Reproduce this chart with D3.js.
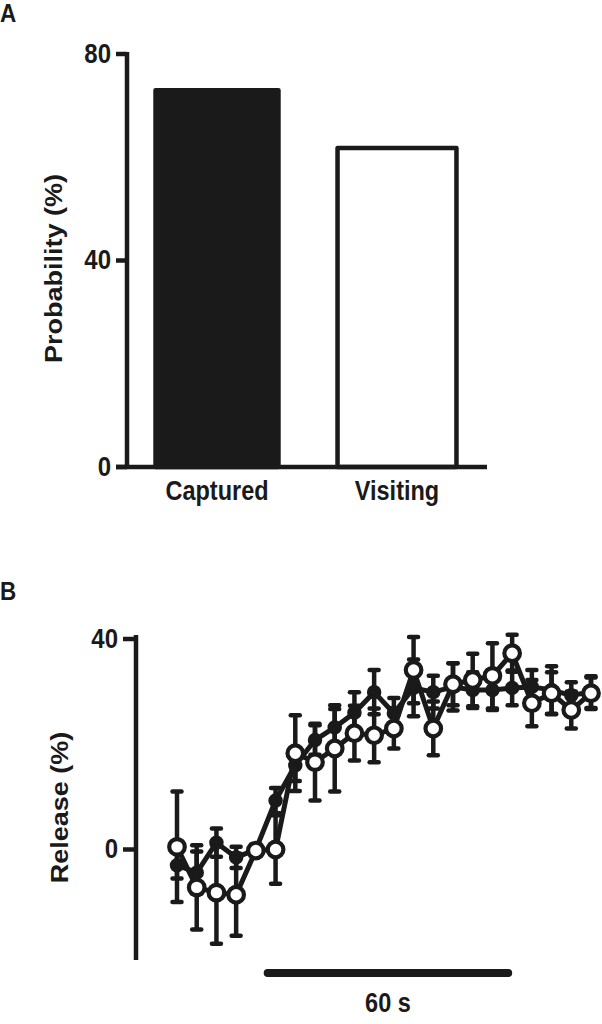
<!DOCTYPE html>
<html><head><meta charset="utf-8">
<script src="https://cdn.jsdelivr.net/npm/d3@7"></script>
<style>html,body{margin:0;padding:0;background:#fff;}svg{display:block;}</style>
</head><body>
<script>
// ---- Panel A data ----
const categories = ["Captured", "Visiting"];
const probability = [73, 61.8];
const probTicks = [0, 40, 80];

// ---- Panel B data ----
const timeIndex = d3.range(22);
const openMean = [0.5, -7.2, -8.2, -8.6, -0.2, 0, 18.3, 16.6, 19.2, 22.1, 21.7, 23, 34.1, 23, 31.4, 32.2, 33, 37.3, 27.8, 29.7, 26.5, 29.7];
const openErr  = [10.5, 8, 9.7, 7.8, 1, 6.5, 7.2, 7.3, 8.2, 5.2, 5.1, 3.8, 6.3, 5.1, 4, 5, 6.2, 3.5, 4.4, 4, 3.5, 3];
const filledMean = [-3, -4.4, 1.3, -1.5, 0, 9.3, 16, 20.8, 23.2, 26, 29.9, 25.9, 30.7, 29.9, 30.9, 30.3, 30.3, 30.7, 30.9, 30.3, 29.3, 29.9];
const filledErr  = [2.5, 4, 2.7, 2, 1, 2.4, 3, 2.8, 3.5, 3.9, 4.2, 2.9, 5.4, 3.1, 4.5, 3.4, 3.8, 3.3, 3.2, 4.5, 2.5, 3];
const releaseTicks = [0, 40];
const stimStart = 4.6, stimEnd = 16.8;
const stimLabel = "60 s";

const INK = "#1a1a1a";
const FONT = "'Liberation Sans', Arial, sans-serif";
const SY = 1.15;

const svg = d3.select("body").append("svg").attr("width", 602).attr("height", 1024);

function txt(x, y, s, size, anchor, rot) {
  return svg.append("text")
    .attr("transform", `translate(${x},${y}) scale(1,${SY})` + (rot ? " rotate(-90)" : ""))
    .attr("text-anchor", anchor)
    .attr("font-family", FONT).attr("font-weight", "bold")
    .attr("font-size", size).attr("fill", INK).text(s);
}

// ================= Panel A =================
const yA = d3.scaleLinear().domain([0, 80]).range([467, 54]);
const xA = d3.scaleBand().domain(categories).range([127, 487]).paddingInner(0.317).paddingOuter(0.1585);

svg.append("g").selectAll("rect").data(categories).join("rect")
  .attr("x", (d) => xA(d) + (d === "Visiting" ? 2 : 0))
  .attr("y", (d, i) => yA(probability[i]))
  .attr("width", (d) => xA.bandwidth() - (d === "Visiting" ? 4 : 0))
  .attr("height", (d, i) => yA(0) - yA(probability[i]))
  .attr("fill", (d, i) => i === 0 ? INK : "#fff")
  .attr("stroke", INK).attr("stroke-width", 4.5).attr("stroke-linejoin", "round");

const gA = svg.append("g").attr("stroke", INK).attr("stroke-width", 4.5);
gA.append("line").attr("x1", 127).attr("x2", 127).attr("y1", yA(80) - 2).attr("y2", yA(0));
gA.append("line").attr("x1", 116).attr("x2", 487).attr("y1", yA(0)).attr("y2", yA(0));
probTicks.forEach(v => {
  gA.append("line").attr("x1", 116).attr("x2", 127).attr("y1", yA(v)).attr("y2", yA(v));
  txt(111, yA(v) + 8.5, String(v), 24, "end");
});
categories.forEach(c => txt(xA(c) + xA.bandwidth() / 2, 500, c, 23.5, "middle"));
txt(62, (yA(0) + yA(80)) / 2 + 8, "Probability (%)", 23.5, "middle", true);
txt(0, 22, "A", 22.5, "start");

// ================= Panel B =================
const xB = d3.scaleLinear().domain([0, 21]).range([177, 591]);
const yB = d3.scaleLinear().domain([-21, 40]).range([960, 639]);

const gAx = svg.append("g").attr("stroke", INK).attr("stroke-width", 4.5);
gAx.append("line").attr("x1", 136).attr("x2", 136).attr("y1", yB(40) - 4).attr("y2", yB(-21));
releaseTicks.forEach(v => {
  gAx.append("line").attr("x1", 123).attr("x2", 136).attr("y1", yB(v)).attr("y2", yB(v));
  txt(118, yB(v) + 8.5, String(v), 24, "end");
});
txt(68, (yB(40) + yB(-21)) / 2 + 8, "Release (%)", 23.5, "middle", true);
txt(0, 600, "B", 22.5, "start");

function series(mean, err, filled) {
  const g = svg.append("g");
  const eb = g.append("g").attr("stroke", INK).attr("stroke-width", 4.5);
  timeIndex.forEach(i => {
    const x = xB(i), y1 = yB(mean[i] + err[i]), y2 = yB(mean[i] - err[i]);
    eb.append("line").attr("x1", x).attr("x2", x).attr("y1", y1).attr("y2", y2);
    eb.append("line").attr("x1", x - 4.5).attr("x2", x + 4.5).attr("y1", y1).attr("y2", y1).attr("stroke-linecap", "round");
    eb.append("line").attr("x1", x - 4.5).attr("x2", x + 4.5).attr("y1", y2).attr("y2", y2).attr("stroke-linecap", "round");
  });
  const line = d3.line().x(i => xB(i)).y(i => yB(mean[i]));
  g.append("path").attr("d", line(timeIndex)).attr("fill", "none")
    .attr("stroke", INK).attr("stroke-width", 5).attr("stroke-linejoin", "round");
  g.append("g").selectAll("circle").data(timeIndex).join("circle")
    .attr("cx", i => xB(i)).attr("cy", i => yB(mean[i]))
    .attr("r", filled ? 6 : 7.8)
    .attr("fill", filled ? INK : "#fff")
    .attr("stroke", INK).attr("stroke-width", filled ? 2.5 : 4.2);
}
series(filledMean, filledErr, true);
series(openMean, openErr, false);

svg.append("line").attr("x1", xB(stimStart)).attr("x2", xB(stimEnd))
  .attr("y1", 973).attr("y2", 973)
  .attr("stroke", INK).attr("stroke-width", 8).attr("stroke-linecap", "round");
txt((xB(stimStart) + xB(stimEnd)) / 2, 1012, stimLabel, 23.5, "middle");
</script>
</body></html>
